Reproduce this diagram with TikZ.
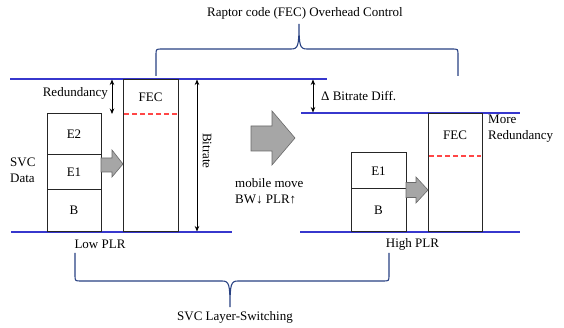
\documentclass[tikz,border=0pt]{standalone}
\usepackage{fontspec}
\setmainfont{Liberation Serif}
\usetikzlibrary{arrows.meta}
\definecolor{levelblue}{RGB}{55,55,205}
\definecolor{bracenavy}{RGB}{40,65,130}
\definecolor{arrowgray}{RGB}{166,166,166}
\definecolor{arrowedge}{RGB}{105,105,105}
\definecolor{fecred}{RGB}{255,70,70}
\begin{document}
\begin{tikzpicture}[x=1pt,y=-1pt,
  font=\fontsize{13}{16}\selectfont,
  layerbox/.style={draw=black!85, line width=1pt, inner sep=0pt},
  lvl/.style={draw=levelblue, line width=1.3pt},
  brace/.style={draw=bracenavy, line width=1.1pt},
  dimarrow/.style={{Stealth[length=5.5pt,width=4.5pt]}-{Stealth[length=5.5pt,width=4.5pt]}, line width=0.8pt},
  fatarrow/.style={fill=arrowgray, draw=arrowedge, line width=0.6pt},
  reddash/.style={draw=fecred, dash pattern=on 5pt off 3pt, line width=1.1pt},
  lbl/.style={inner sep=0pt}]
\useasboundingbox (0,0) rectangle (564,328);

% level lines
\coordinate (topA) at (10,79);   \coordinate (topB) at (327,79);
\coordinate (botLA) at (11,232); \coordinate (botLB) at (232,232);
\coordinate (topRA) at (301,113);  \coordinate (topRB) at (520,113);
\coordinate (botRA) at (300,232); \coordinate (botRB) at (520,232);
\draw[lvl] (topA) -- (topB);
\draw[lvl] (botLA) -- (botLB);
\draw[lvl] (topRA) -- (topRB);
\draw[lvl] (botRA) -- (botRB);

% left stack
\node[layerbox, minimum width=54pt, minimum height=41pt] (e2L) at (74,134.5) {E2};
\node[layerbox, minimum width=54pt, minimum height=35pt] (e1L) at (74,172.5) {E1};
\node[layerbox, minimum width=54pt, minimum height=41.5pt] (bL) at (74,210.75) {B};
\node[layerbox, minimum width=55pt, minimum height=152pt] (fecboxL) at (150.5,155.5) {};
\node[lbl] (fecL) at (150.5,97.7) {FEC};
\coordinate (rdLA) at (124,114); \coordinate (rdLB) at (177,114);
\draw[reddash] (rdLA) -- (rdLB);

% right stack
\node[layerbox, minimum width=55pt, minimum height=36pt] (e1R) at (378.5,171) {E1};
\node[layerbox, minimum width=55pt, minimum height=42.5pt] (bR) at (378.5,210.25) {B};
\node[layerbox, minimum width=54pt, minimum height=118pt] (fecboxR) at (455,172.5) {};
\node[lbl] (fecR) at (455,135) {FEC};
\coordinate (rdRA) at (429,156); \coordinate (rdRB) at (481,156);
\draw[reddash] (rdRA) -- (rdRB);

% gray block arrows
\draw[fatarrow] (101,158) -- (112,158) -- (112,150) -- (123,164) -- (112,177) -- (112,172) -- (101,172) -- cycle;
\draw[fatarrow] (406,182.5) -- (416,182.5) -- (416,177) -- (428,190) -- (416,203) -- (416,197.5) -- (406,197.5) -- cycle;
\draw[fatarrow] (251,126) -- (272,126) -- (272,111) -- (295,138) -- (272,165) -- (272,151) -- (251,151) -- cycle;

% dimension arrows
\coordinate (redA) at (112,79.5); \coordinate (redB) at (112,114);
\draw[dimarrow] (redA) -- (redB);
\node[lbl, anchor=east] (redtxt) at (108,93) {Redundancy};
\coordinate (bitA) at (197,79.5); \coordinate (bitB) at (197,231.5);
\draw[dimarrow] (bitA) -- (bitB);
\node[lbl, rotate=-90] (bittxt) at (207,151) {Bitrate};
\coordinate (difA) at (313,79.5); \coordinate (difB) at (313,112.5);
\draw[dimarrow] (difA) -- (difB);
\node[lbl, anchor=west] (diftxt) at (321,96) {Δ Bitrate Diff.};

% texts
\node[lbl, anchor=west, align=left] (svc) at (10,170) {SVC\\Data};
\node[lbl, anchor=west, align=left] (mob) at (235,191) {mobile move\\BW↓ PLR↑};
\node[lbl, anchor=west, align=left] (more) at (488,129) {More\\Redundancy};
\node[lbl] (low) at (100,244) {Low PLR};
\node[lbl] (high) at (412.5,244) {High PLR};
\node[lbl] (raptor) at (305,13) {Raptor code (FEC) Overhead Control};
\node[lbl] (layer) at (235,317) {SVC Layer-Switching};

% braces
\draw[brace] (156,76) -- (156,55) .. controls (156,49) .. (162,49) -- (291,49)
  .. controls (298,49) and (299,46) .. (299,24)
  .. controls (299,46) and (300,49) .. (307,49) -- (452,49)
  .. controls (458,49) .. (458,55) -- (458,76);
\draw[brace] (75,253) -- (75,275) .. controls (75,281) .. (81,281) -- (222,281)
  .. controls (229,281) and (230,284) .. (230,307)
  .. controls (230,284) and (231,281) .. (238,281) -- (383,281)
  .. controls (389,281) .. (389,275) -- (389,253);
\end{tikzpicture}
\end{document}
